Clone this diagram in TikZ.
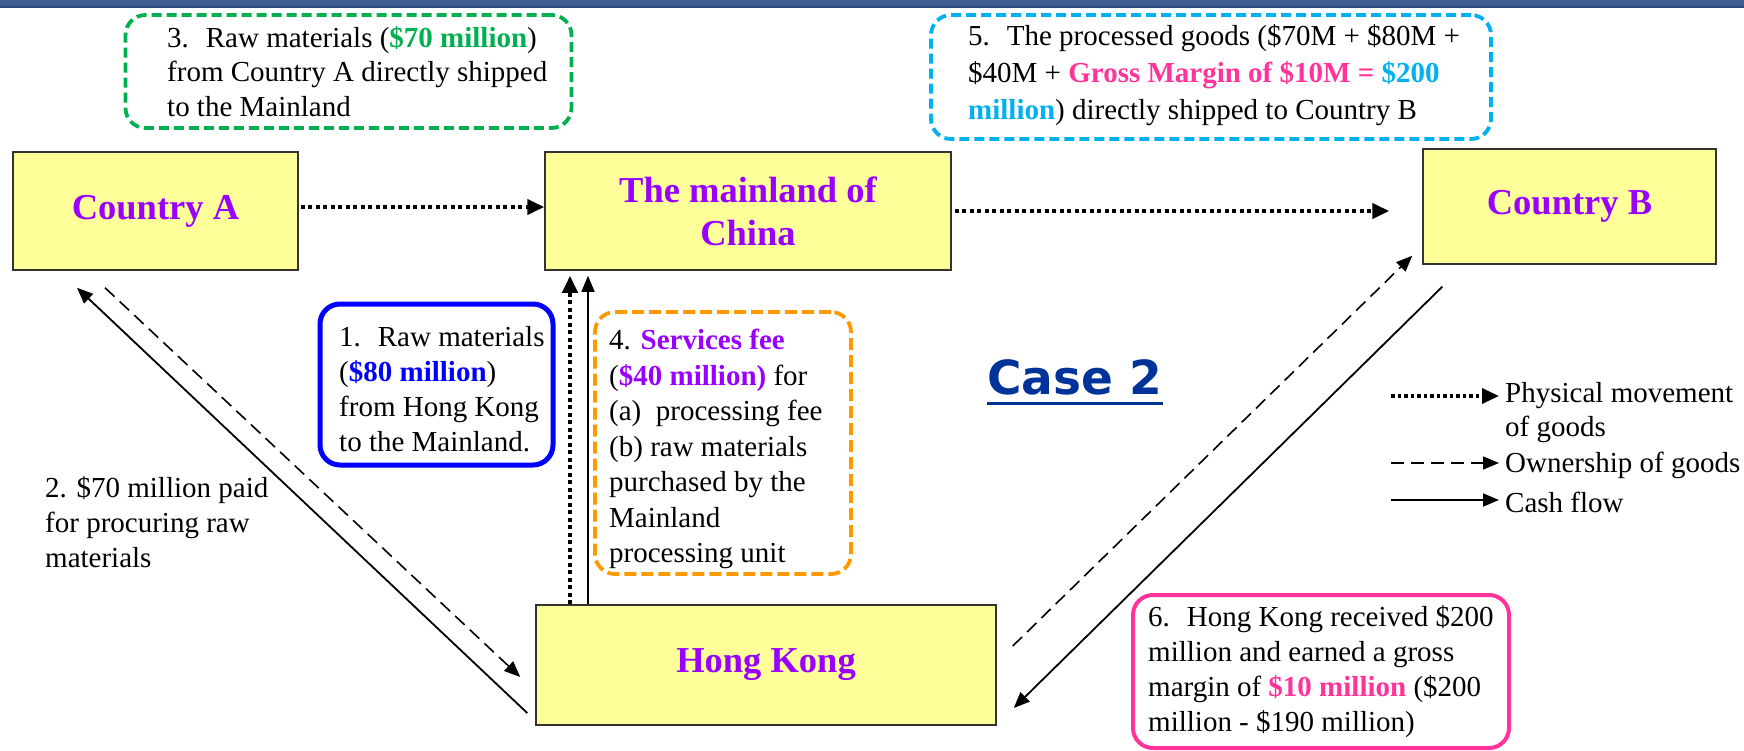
\documentclass[tikz,border=0pt]{standalone}
\usepackage{fontspec}
\setmainfont{Liberation Serif}
\newfontfamily\casefont{DejaVu Sans}
\usetikzlibrary{arrows.meta,calc}
\definecolor{myyellow}{HTML}{FFFF99}
\definecolor{mypurple}{HTML}{9900FF}
\definecolor{mygreen}{HTML}{00B050}
\definecolor{mycyan}{HTML}{00B0F0}
\definecolor{mypink}{HTML}{FF3399}
\definecolor{myblue}{HTML}{0000FF}
\definecolor{myorange}{HTML}{FF9900}
\definecolor{casecolor}{HTML}{003399}
\definecolor{barblue}{HTML}{3E5F93}
\definecolor{bardark}{HTML}{2C4A7A}
\begin{document}
\begin{tikzpicture}[x=1pt,y=-1pt,
  ybox/.style={draw=black!80, line width=1.5pt, fill=myyellow, inner sep=0pt,
    font=\fontsize{36.5}{43}\selectfont\bfseries, text=mypurple, align=center},
  notebox/.style={rounded corners=20pt, line width=3.8pt, inner sep=0pt},
  body/.style={inner sep=0pt, align=left, anchor=west, font=\fontsize{29}{35}\selectfont},
  phys/.style={line width=4pt, dash pattern=on 4pt off 3.5pt, -{Triangle[length=17pt,width=15pt]}},
  own/.style={line width=1.6pt, dash pattern=on 13pt off 7pt, -{Triangle[length=16pt,width=13pt]}},
  cash/.style={line width=1.8pt, -{Triangle[length=16pt,width=13pt]}}]
\useasboundingbox (0,0) rectangle (1744,751);
% top bar
\fill[barblue] (0,0) rectangle (1744,8.5);
\fill[bardark] (0,6.5) rectangle (1744,8.5);

% main boxes
\node[ybox, minimum width=285pt, minimum height=118pt] (ca) at (155.5,211) {Country A};
\node[ybox, minimum width=406pt, minimum height=118pt] (ml) at (748,211) {The mainland of\\China};
\node[ybox, minimum width=293pt, minimum height=115pt] (cb) at (1569.5,206.5) {Country B};
\node[ybox, minimum width=460pt, minimum height=120pt] (hk) at (766,665) {Hong Kong};

% note boxes
\node[notebox, draw=mygreen, dash pattern=on 10pt off 5pt, minimum width=446pt, minimum height=113pt] (gbox) at (348.5,71.5) {};
\node[body, font=\fontsize{29}{34.5}\selectfont] (gtext) at (167,71.5)
  {3.~ Raw materials ({\bfseries\color{mygreen}\$70 million})\\from Country A directly shipped\\to the Mainland};

\node[notebox, draw=mycyan, dash pattern=on 10pt off 5pt, minimum width=560pt, minimum height=124pt] (cbox) at (1211,77) {};
\node[body, font=\fontsize{29}{37}\selectfont] (ctext) at (968,75)
  {5.~ The processed goods (\$70M + \$80M +\\\$40M + {\bfseries\color{mypink}Gross Margin of \$10M = }{\bfseries\color{mycyan}\$200}\\{\bfseries\color{mycyan}million}) directly shipped to Country B};

\node[notebox, draw=myblue, line width=5pt, minimum width=233pt, minimum height=161pt] (bbox) at (436.5,384.5) {};
\node[body] (btext) at (339,389.5)
  {1.~ Raw materials\\({\bfseries\color{myblue}\$80 million})\\from Hong Kong\\to the Mainland.};

\node[notebox, draw=myorange, dash pattern=on 12pt off 5pt, minimum width=256pt, minimum height=262pt] (obox) at (723,443) {};
\node[body, font=\fontsize{29}{35.5}\selectfont] (otext) at (609,449)
  {4. {\bfseries\color{mypurple}Services fee}\\({\bfseries\color{mypurple}\$40 million)} for\\(a)~ processing fee\\(b) raw materials\\purchased by the\\Mainland\\processing unit};

\node[notebox, draw=mypink, line width=4pt, minimum width=376pt, minimum height=153pt] (pbox) at (1321,671.5) {};
\node[body] (ptext) at (1148,672)
  {6.~ Hong Kong received \$200\\million and earned a gross\\margin of {\bfseries\color{mypink}\$10 million} (\$200\\million - \$190 million)};

\node[body] (ltwo) at (45,522) {2. \$70 million paid\\for procuring raw\\materials};

% Case 2
\node[inner sep=0pt, anchor=base west, text=casecolor, font={\casefont\bfseries\fontsize{47}{50}\selectfont}] (case) at (987,394) {Case 2};
\draw[casecolor, line width=3pt] ([yshift=-9pt]case.base west) -- ([yshift=-9pt]case.base east);

% connectors
\draw[phys, shorten <=2pt] ([yshift=4pt]ca.east) -- ([yshift=4pt]ca.east -| ml.west);
\draw[phys, shorten <=3pt, shorten >=33pt] (ml.east) -- (ml.east -| cb.west);
\draw[phys, shorten >=5pt] ([xshift=-196pt]hk.north) -- ([xshift=-196pt]hk.north |- ml.south);
\draw[cash, line width=1.5pt, shorten >=5pt] ([xshift=-178pt]hk.north) -- ([xshift=-178pt]hk.north |- ml.south);

\draw[own] ($(ca.south)+(-50.5,17)$) -- ($(hk.west)+(-15,12)$);
\draw[cash] ($(hk.west)+(-8,48)$) -- ($(ca.south)+(-78.5,17)$);
\draw[own] ($(hk.east)+(16,-19)$) -- ($(cb.south west)+(-10,-9)$);
\draw[cash] ($(cb.south west)+(20,22)$) -- ($(hk.east)+(17,43)$);

% legend
\coordinate (l1s) at (1391,396); \coordinate (l1e) at (1499,396);
\coordinate (l2s) at (1391,463); \coordinate (l2e) at (1499,463);
\coordinate (l3s) at (1391,500); \coordinate (l3e) at (1499,500);
\draw[phys, line width=3.2pt, dash pattern=on 3.5pt off 3pt] (l1s) -- (l1e);
\draw[own] (l2s) -- (l2e);
\draw[cash] (l3s) -- (l3e);
\node[body, font=\fontsize{29}{34}\selectfont] (lt1) at (1505,413) {Physical movement\\of goods};
\node[body] (lt2) at (1505,465) {Ownership of goods};
\node[body] (lt3) at (1505,502) {Cash flow};
\end{tikzpicture}
\end{document}
